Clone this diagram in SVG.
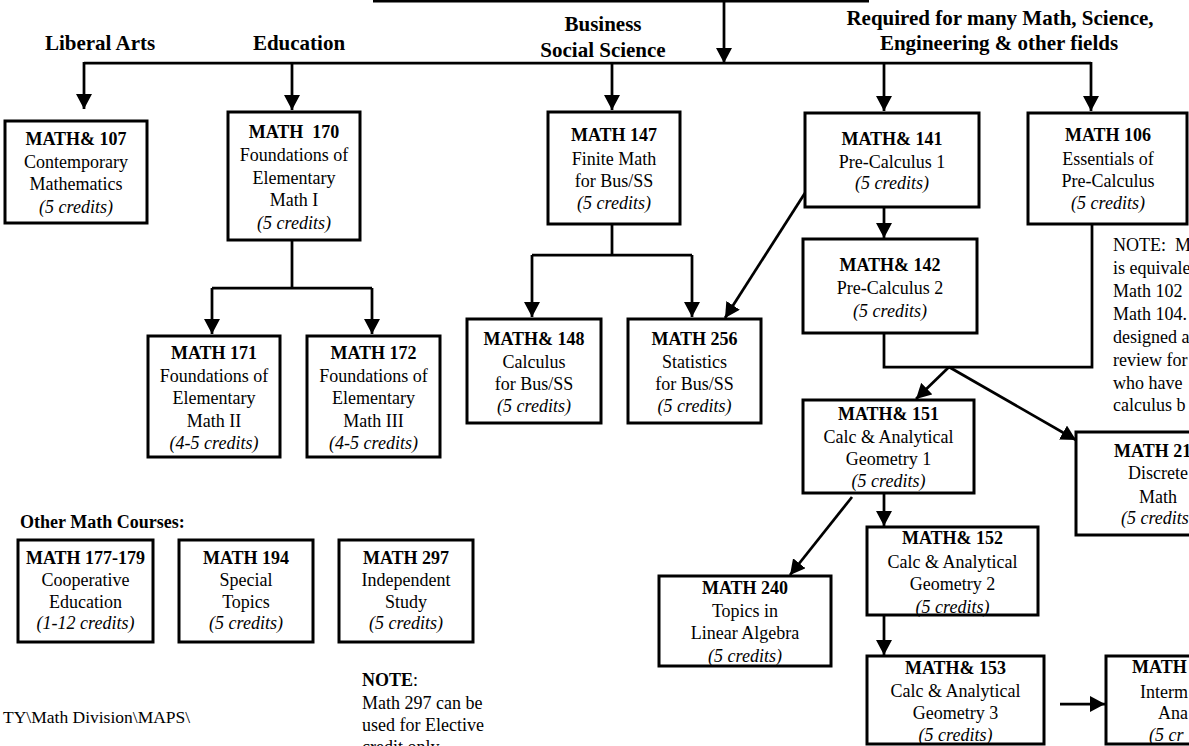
<svg xmlns="http://www.w3.org/2000/svg" width="1189" height="746" viewBox="0 0 1189 746">
<defs>
<marker id="ah" markerUnits="userSpaceOnUse" markerWidth="16" markerHeight="16" refX="15" refY="8" orient="auto"><path d="M0,0 L15,8 L0,16 Z" fill="#000"/></marker>
<style>
.box{fill:#fff;stroke:#000;stroke-width:3}
.ln{fill:none;stroke:#000;stroke-width:2.75}
.arr{marker-end:url(#ah)}
text{font-family:"Liberation Serif","Times New Roman",serif;font-size:18px;fill:#000}
.c{text-anchor:middle}
.b{font-weight:bold}
.i{font-style:italic}
.h{font-size:21px;font-weight:bold;text-anchor:middle}
</style>
</defs>
<rect width="1189" height="746" fill="#fff"/>

<g id="headers">
<text class="h" x="100" y="50">Liberal Arts</text>
<text class="h" x="299" y="50">Education</text>
<text class="h" x="603" y="31">Business</text>
<text class="h" x="603" y="57">Social Science</text>
<text class="h" x="1000" y="25">Required for many Math, Science,</text>
<text class="h" x="999" y="50">Engineering &amp; other fields</text>
</g>

<g id="connectors">
<line class="ln" x1="373" y1="1" x2="869" y2="1"/>
<line class="ln arr" x1="724" y1="0" x2="724" y2="63"/>
<line class="ln" x1="84" y1="63" x2="1091" y2="63"/>
<line class="ln arr" x1="84" y1="62" x2="84" y2="109"/>
<line class="ln arr" x1="292" y1="62" x2="292" y2="110"/>
<line class="ln arr" x1="612" y1="62" x2="612" y2="110"/>
<line class="ln arr" x1="884" y1="62" x2="884" y2="111"/>
<line class="ln arr" x1="1091" y1="62" x2="1091" y2="111"/>
<path class="ln" d="M292,240 V288 M212,288 H372"/>
<line class="ln arr" x1="212" y1="288" x2="212" y2="334"/>
<line class="ln arr" x1="372" y1="288" x2="372" y2="334"/>
<path class="ln" d="M612,224 V255 M532,255 H692"/>
<line class="ln arr" x1="532" y1="255" x2="532" y2="317"/>
<line class="ln arr" x1="692" y1="255" x2="692" y2="317"/>
<line class="ln arr" x1="805" y1="193" x2="725" y2="318"/>
<line class="ln arr" x1="884" y1="207" x2="884" y2="238"/>
<path class="ln" d="M884,333 V367 H1092 V224"/>
<line class="ln arr" x1="949" y1="367" x2="916" y2="399"/>
<line class="ln arr" x1="949" y1="367" x2="1076" y2="440"/>
<line class="ln arr" x1="852" y1="497" x2="790" y2="575"/>
<line class="ln arr" x1="884" y1="493" x2="884" y2="526"/>
<line class="ln arr" x1="884" y1="608" x2="884" y2="655"/>
<line class="ln arr" x1="1060" y1="704" x2="1105" y2="704"/>
</g>

<g id="math107">
<rect class="box" x="5" y="121" width="142" height="102"/>
<text class="c"><tspan class="b" x="76" y="145">MATH&amp; 107</tspan><tspan x="76" y="168">Contemporary</tspan><tspan x="76" y="190">Mathematics</tspan><tspan class="i" x="76" y="213">(5 credits)</tspan></text>
</g>
<g id="math170">
<rect class="box" x="228" y="112" width="132" height="128"/>
<text class="c"><tspan class="b" x="294" y="138" xml:space="preserve">MATH  170</tspan><tspan x="294" y="161">Foundations of</tspan><tspan x="294" y="184">Elementary</tspan><tspan x="294" y="206">Math I</tspan><tspan class="i" x="294" y="229">(5 credits)</tspan></text>
</g>
<g id="math171">
<rect class="box" x="148" y="336" width="132" height="121"/>
<text class="c"><tspan class="b" x="214" y="359">MATH 171</tspan><tspan x="214" y="382">Foundations of</tspan><tspan x="214" y="404">Elementary</tspan><tspan x="214" y="427">Math II</tspan><tspan class="i" x="214" y="449">(4-5 credits)</tspan></text>
</g>
<g id="math172">
<rect class="box" x="307" y="336" width="133" height="121"/>
<text class="c"><tspan class="b" x="373.5" y="359">MATH 172</tspan><tspan x="373.5" y="382">Foundations of</tspan><tspan x="373.5" y="404">Elementary</tspan><tspan x="373.5" y="427">Math III</tspan><tspan class="i" x="373.5" y="449">(4-5 credits)</tspan></text>
</g>
<g id="math147">
<rect class="box" x="548" y="112" width="132" height="112"/>
<text class="c"><tspan class="b" x="614" y="141">MATH 147</tspan><tspan x="614" y="165">Finite Math</tspan><tspan x="614" y="187">for Bus/SS</tspan><tspan class="i" x="614" y="209">(5 credits)</tspan></text>
</g>
<g id="math148">
<rect class="box" x="467" y="319" width="134" height="104"/>
<text class="c"><tspan class="b" x="534" y="345">MATH&amp; 148</tspan><tspan x="534" y="368">Calculus</tspan><tspan x="534" y="390">for Bus/SS</tspan><tspan class="i" x="534" y="412">(5 credits)</tspan></text>
</g>
<g id="math256">
<rect class="box" x="628" y="319" width="133" height="104"/>
<text class="c"><tspan class="b" x="694.5" y="345">MATH 256</tspan><tspan x="694.5" y="368">Statistics</tspan><tspan x="694.5" y="390">for Bus/SS</tspan><tspan class="i" x="694.5" y="412">(5 credits)</tspan></text>
</g>
<g id="math141">
<rect class="box" x="805" y="113" width="174" height="94"/>
<text class="c"><tspan class="b" x="892" y="145">MATH&amp; 141</tspan><tspan x="892" y="168">Pre-Calculus 1</tspan><tspan class="i" x="892" y="189">(5 credits)</tspan></text>
</g>
<g id="math142">
<rect class="box" x="803" y="239" width="174" height="94"/>
<text class="c"><tspan class="b" x="890" y="271">MATH&amp; 142</tspan><tspan x="890" y="294">Pre-Calculus 2</tspan><tspan class="i" x="890" y="317">(5 credits)</tspan></text>
</g>
<g id="math106">
<rect class="box" x="1028" y="113" width="159" height="111"/>
<text class="c"><tspan class="b" x="1108" y="141">MATH 106</tspan><tspan x="1108" y="165">Essentials of</tspan><tspan x="1108" y="187">Pre-Calculus</tspan><tspan class="i" x="1108" y="209">(5 credits)</tspan></text>
</g>
<g id="note106">
<text xml:space="preserve"><tspan x="1113" y="251">NOTE:  M</tspan><tspan x="1113" y="274">is equivale</tspan><tspan x="1113" y="297">Math 102</tspan><tspan x="1113" y="320">Math 104.</tspan><tspan x="1113" y="343">designed a</tspan><tspan x="1113" y="366">review for</tspan><tspan x="1113" y="389">who have</tspan><tspan x="1113" y="411">calculus b</tspan></text>
</g>
<g id="math151">
<rect class="box" x="803" y="400" width="171" height="93"/>
<text class="c"><tspan class="b" x="888.5" y="420">MATH&amp; 151</tspan><tspan x="888.5" y="443">Calc &amp; Analytical</tspan><tspan x="888.5" y="465">Geometry 1</tspan><tspan class="i" x="888.5" y="487">(5 credits)</tspan></text>
</g>
<g id="math21x">
<rect class="box" x="1076" y="432" width="170" height="103"/>
<text><tspan class="b" x="1114" y="457">MATH 21</tspan></text>
<text class="c"><tspan x="1158" y="479">Discrete</tspan><tspan x="1158" y="503">Math</tspan></text>
<text class="i" x="1121" y="524">(5 credits</text>
</g>
<g id="math152">
<rect class="box" x="867" y="527" width="171" height="88"/>
<text class="c"><tspan class="b" x="952.5" y="544">MATH&amp; 152</tspan><tspan x="952.5" y="568">Calc &amp; Analytical</tspan><tspan x="952.5" y="590">Geometry 2</tspan><tspan class="i" x="952.5" y="613">(5 credits)</tspan></text>
</g>
<g id="math240">
<rect class="box" x="659" y="576" width="172" height="90"/>
<text class="c"><tspan class="b" x="745" y="594">MATH 240</tspan><tspan x="745" y="617">Topics in</tspan><tspan x="745" y="639">Linear Algebra</tspan><tspan class="i" x="745" y="662">(5 credits)</tspan></text>
</g>
<g id="math153">
<rect class="box" x="867" y="656" width="177" height="88"/>
<text class="c"><tspan class="b" x="955.5" y="674">MATH&amp; 153</tspan><tspan x="955.5" y="697">Calc &amp; Analytical</tspan><tspan x="955.5" y="719">Geometry 3</tspan><tspan class="i" x="955.5" y="741">(5 credits)</tspan></text>
</g>
<g id="mathnext">
<rect class="box" x="1106" y="656" width="170" height="88"/>
<text><tspan class="b" x="1132" y="673">MATH</tspan><tspan x="1140" y="698">Interm</tspan><tspan x="1158" y="719">Ana</tspan><tspan class="i" x="1149" y="741">(5 cr</tspan></text>
</g>

<g id="other">
<text class="b" x="20" y="528">Other Math Courses:</text>
</g>
<g id="math177">
<rect class="box" x="18" y="540" width="135" height="102"/>
<text class="c"><tspan class="b" x="85.5" y="564">MATH 177-179</tspan><tspan x="85.5" y="586">Cooperative</tspan><tspan x="85.5" y="608">Education</tspan><tspan class="i" x="85.5" y="629">(1-12 credits)</tspan></text>
</g>
<g id="math194">
<rect class="box" x="179" y="540" width="134" height="102"/>
<text class="c"><tspan class="b" x="246" y="564">MATH 194</tspan><tspan x="246" y="586">Special</tspan><tspan x="246" y="608">Topics</tspan><tspan class="i" x="246" y="629">(5 credits)</tspan></text>
</g>
<g id="math297">
<rect class="box" x="339" y="540" width="134" height="102"/>
<text class="c"><tspan class="b" x="406" y="564">MATH 297</tspan><tspan x="406" y="586">Independent</tspan><tspan x="406" y="608">Study</tspan><tspan class="i" x="406" y="629">(5 credits)</tspan></text>
</g>
<g id="note297">
<text><tspan x="362" y="686"><tspan class="b">NOTE</tspan>:</tspan><tspan x="362" y="709">Math 297 can be</tspan><tspan x="362" y="731">used for Elective</tspan><tspan x="362" y="753">credit only.</tspan></text>
</g>
<g id="footer">
<text x="3" y="723" style="font-size:17.5px">TY\Math Division\MAPS\</text>
</g>
</svg>
